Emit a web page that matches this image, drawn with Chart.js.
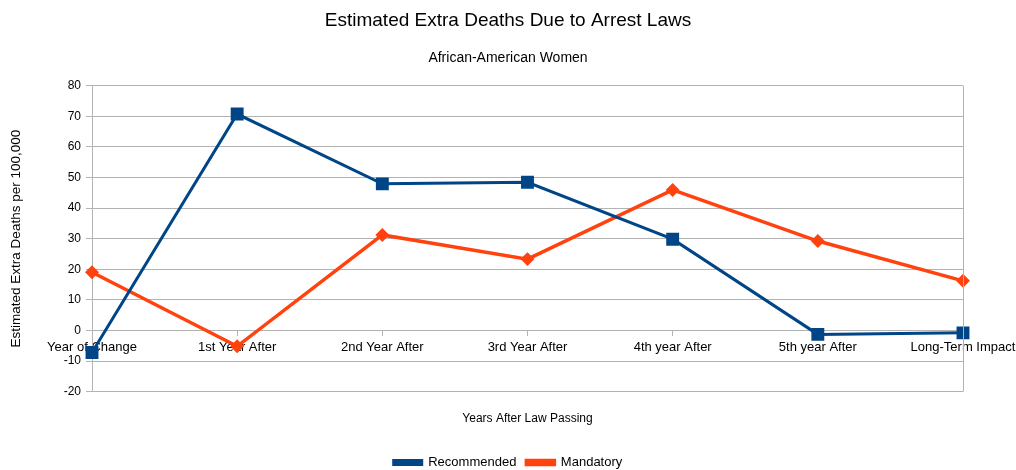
<!DOCTYPE html>
<html>
<head>
<meta charset="utf-8">
<script src="https://cdn.jsdelivr.net/npm/chart.js@4.4.1/dist/chart.umd.min.js"></script>
<style>
    html, body { margin: 0; padding: 0; background: #fff; }
    #wrap { width: 1016px; height: 470px; }
</style>
</head>
<body>
<div id="wrap"><canvas id="deathsChart"></canvas></div>
<script>
// Chart data
const categories = ['Year of Change', '1st Year After', '2nd Year After', '3rd Year After', '4th year After', '5th year After', 'Long-Term Impact'];
const recommended = [-7.2, 70.7, 47.9, 48.4, 29.8, -1.3, -0.8];
const mandatory = [19.0, -5.2, 31.2, 23.3, 45.9, 29.2, 16.2];
const yTicks = [-20, -10, 0, 10, 20, 30, 40, 50, 60, 70, 80];

const FONT = "'Liberation Sans', Arial, sans-serif";
const GRID = '#b3b3b3';

// right border of the plot area
const frameRight = {
    id: 'frameRight',
    afterDraw: (chart) => {
        const a = chart.chartArea;
        const ctx = chart.ctx;
        ctx.save();
        ctx.strokeStyle = GRID;
        ctx.lineWidth = 1;
        ctx.beginPath();
        ctx.moveTo(Math.round(a.right) + 0.5, a.top);
        ctx.lineTo(Math.round(a.right) + 0.5, a.bottom);
        ctx.stroke();
        ctx.restore();
    }
};

new Chart(document.getElementById('deathsChart'), {
    type: 'line',
    data: {
        labels: categories,
        datasets: [{
            label: 'Recommended',
            data: recommended,
            borderColor: '#004586',
            backgroundColor: '#004586',
            borderWidth: 3,
            pointStyle: 'rect',
            pointRadius: 7,
            pointHoverRadius: 7,
            tension: 0
        }, {
            label: 'Mandatory',
            data: mandatory,
            borderColor: '#ff420e',
            backgroundColor: '#ff420e',
            borderWidth: 3.5,
            pointStyle: 'rectRot',
            pointRadius: 4.5,
            pointHoverRadius: 4.5,
            tension: 0
        }]
    },
    options: {
        responsive: true,
        maintainAspectRatio: false,
        animation: false,
        layout: { padding: { top: 0, left: 0, right: 0, bottom: -9 } },
        plugins: {
            title: {
                display: true,
                text: 'Estimated Extra Deaths Due to Arrest Laws',
                color: '#000',
                font: { family: FONT, size: 19, weight: 'normal' },
                padding: { top: 9, bottom: 18 }
            },
            subtitle: {
                display: true,
                text: 'African-American Women',
                color: '#000',
                font: { family: FONT, size: 14 },
                padding: { top: 0, bottom: 19 }
            },
            legend: {
                position: 'bottom',
                labels: {
                    color: '#000',
                    font: { family: FONT, size: 13 },
                    boxWidth: 28,
                    boxHeight: 4,
                    padding: 10
                }
            },
            tooltip: { enabled: false }
        },
        scales: {
            x: {
                type: 'category',
                position: { y: 0 },
                offset: false,
                afterFit: (scale) => { scale.paddingLeft = 0; scale.paddingRight = 0; },
                grid: { drawOnChartArea: false, drawTicks: true, tickLength: 5, color: GRID },
                border: { display: true, color: GRID },
                ticks: {
                    color: '#000',
                    font: { family: FONT, size: 13 },
                    padding: 4,
                    maxRotation: 0,
                    autoSkip: false
                }
            },
            x2: {
                type: 'category',
                position: 'bottom',
                labels: categories,
                grid: { display: false },
                border: { display: false },
                ticks: { display: false },
                title: {
                    display: true,
                    text: 'Years After Law Passing',
                    color: '#000',
                    font: { family: FONT, size: 12 },
                    padding: { top: 12, bottom: 20 }
                }
            },
            y: {
                min: -20,
                max: 80,
                afterFit: (scale) => { scale.width = 92; },
                afterBuildTicks: (scale) => { scale.ticks = yTicks.map(v => ({ value: v })); },
                grid: { color: GRID, tickLength: 6 },
                border: { display: true, color: GRID },
                ticks: {
                    color: '#000',
                    font: { family: FONT, size: 12 },
                    padding: 5
                },
                title: {
                    display: true,
                    text: 'Estimated Extra Deaths per 100,000',
                    color: '#000',
                    font: { family: FONT, size: 13.5 },
                    padding: 8
                }
            },
            // empty axis that keeps the right margin
            yRight: {
                position: 'right',
                min: -20,
                max: 80,
                afterFit: (scale) => { scale.width = 53; },
                grid: { display: false },
                border: { display: false },
                ticks: { display: false }
            }
        }
    },
    plugins: [frameRight]
});
</script>
</body>
</html>
